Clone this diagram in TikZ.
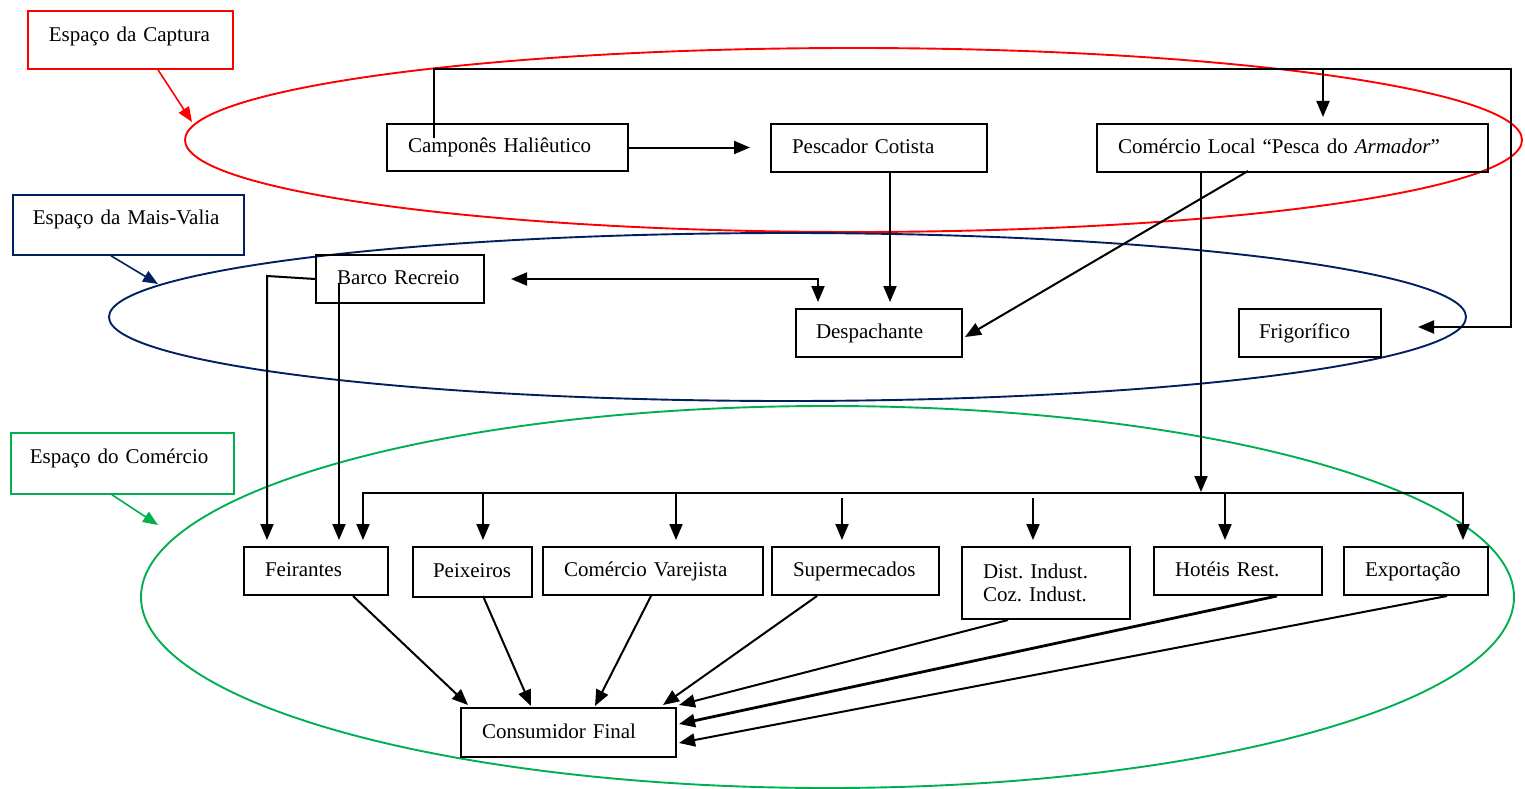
\documentclass[tikz,border=0pt]{standalone}
\usepackage{fontspec}
\setmainfont{Liberation Serif}
\usetikzlibrary{arrows.meta,calc}
\definecolor{capred}{RGB}{255,0,0}
\definecolor{mvblue}{RGB}{0,32,96}
\definecolor{comgreen}{RGB}{0,176,80}
\newcommand\dfont{\fontsize{21}{23.5}\selectfont\frenchspacing}
\begin{document}
\begin{tikzpicture}[x=1pt,y=-1pt,
  tri/.tip={Triangle[length=16pt,width=13pt]},
  box/.style={draw, line width=2pt, anchor=north west, inner xsep=21pt, inner ysep=0pt,
    align=left, font=\dfont, text height=14.5pt, text depth=3.5pt},
  boxtwo/.style={draw, line width=2pt, anchor=north west, inner xsep=21pt, inner ysep=0pt,
    align=left, font=\dfont},
  tag/.style={draw, line width=1.8pt, anchor=north west, inner ysep=0pt, align=left, font=\dfont},
  ln/.style={line width=2pt},
  arr/.style={line width=2pt, -tri},
  ptr/.style={line width=1.6pt, -{Triangle[length=15pt,width=12pt]}}
]
\useasboundingbox (0,0) rectangle (1525,789);

% ellipses (spaces)
\draw[capred, line width=1.9pt] (853.5,140) ellipse [x radius=668.5pt, y radius=92pt];
\draw[mvblue, line width=1.9pt] (787.5,317) ellipse [x radius=678.5pt, y radius=84pt];
\draw[comgreen, line width=1.9pt] (827.5,597) ellipse [x radius=686.5pt, y radius=191pt];

% space labels
\node[tag, draw=capred, inner xsep=21pt, text width=163pt, text height=30.5pt, text depth=27.5pt] (capbox) at (27,10) {Espaço da Captura};
\node[tag, draw=mvblue, inner xsep=20pt, text width=191pt, text height=30pt, text depth=30pt] (mvbox) at (12,194) {Espaço da Mais-Valia};
\node[tag, draw=comgreen, inner xsep=19pt, text width=185pt, text height=31pt, text depth=30pt] (combox) at (10,432) {Espaço do Comércio};

\coordinate (captip) at (192,122);
\coordinate (mvtip) at (158,284);
\coordinate (comtip) at (158,525);
\draw[ptr, capred] ($(capbox.south west)+(131,0)$) -- (captip);
\draw[ptr, mvblue] ($(mvbox.south west)+(99,0)$) -- (mvtip);
\draw[ptr, comgreen] ($(combox.south west)+(102,0)$) -- (comtip);

% main boxes
\node[box, text width=199pt, minimum height=47pt] (camp) at (386,123) {Camponês Haliêutico};
\node[box, text width=174pt, minimum height=48pt] (pesc) at (770,123) {Pescador Cotista};
\node[box, text width=349pt, minimum height=48pt] (com) at (1096,123) {Comércio Local “Pesca do \textit{Armador}”};
\node[box, text width=126pt, minimum height=48pt] (barco) at (315,254) {Barco Recreio};
\node[box, minimum height=48pt, inner xsep=20pt, text width=126pt] (desp) at (795,308) {Despachante};
\node[box, text width=102pt, minimum height=48pt, inner xsep=20pt] (frig) at (1238,308) {Frigorífico};

\node[box, text width=102pt, minimum height=48pt] (feir) at (243,546) {Feirantes};
\node[box, text width=79pt, minimum height=50pt, inner xsep=20pt] (peix) at (412,546) {Peixeiros};
\node[box, text width=178pt, minimum height=48pt] (var) at (542,546) {Comércio Varejista};
\node[box, text width=125pt, minimum height=48pt] (sup) at (771,546) {Supermecados};
\node[boxtwo, text width=126pt, minimum height=72pt] (dist) at (961,546) {Dist. Indust.\\Coz. Indust.};
\node[box, text width=126pt, minimum height=48pt] (hot) at (1153,546) {Hotéis Rest.};
\node[box, text width=102pt, minimum height=48pt] (exp) at (1343,546) {Exportação};
\node[box, text width=173pt, minimum height=49pt] (cons) at (460,707) {Consumidor Final};

% connector coordinates
\coordinate (topL) at (434,69);
\coordinate (topR) at (1511,69);
\coordinate (rgtB) at (1511,327);
\coordinate (frigin) at (1418,327);
\coordinate (comsplit) at (1323,69);
\coordinate (comin) at ($(com.north west)+(227,-6)$);

% Camponês -> Comércio Local / Frigorífico
\draw[arr] ($(camp.north west)+(48,15)$) -- (topL) -- (topR) -- (rgtB) -- (frigin);
\draw[arr] (comsplit) -- (comin);

% Camponês -> Pescador
\draw[arr] (camp.east) -- ($(camp.east)+(121,0)$);

% Pescador -> Despachante
\draw[arr] ($(pesc.south west)+(120,0)$) -- ($(desp.north west)+(95,-6)$);

% Barco <-> Despachante
\coordinate (barcoout) at ($(barco.east)+(26,0)$);
\coordinate (despin) at ($(desp.north west)+(23,-6)$);
\draw[ln, tri-tri] (barcoout) -| (despin);

% Comércio Local -> Despachante
\draw[arr] ($(com.south west)+(152,-2)$) -- ($(desp.north east)+(2,29)$);

% Comércio Local -> bus
\coordinate (busC) at (1201,493);
\draw[arr] ($(com.south west)+(105,0)$) -- ($(busC)+(0,-1)$);
\coordinate (busL) at (363,493);
\coordinate (busR) at (1463,493);
\draw[ln, tri-tri] ($(feir.north west)+(120,-6)$) -- (busL) -- (busR) -- ($(exp.north west)+(120,-6)$);
\draw[arr] (483,493) -- ($(peix.north west)+(71,-6)$);
\draw[arr] (676,493) -- ($(var.north west)+(134,-6)$);
\draw[arr] (1225,493) -- ($(hot.north west)+(72,-6)$);
\draw[arr] (842,498) -- ($(sup.north west)+(71,-6)$);
\draw[arr] (1033,498) -- ($(dist.north west)+(72,-6)$);

% Barco -> Feirantes
\coordinate (bk) at (267,276);
\draw[arr] (barco.west) -- (bk) -- ($(feir.north west)+(24,-6)$);
\draw[arr] ($(barco.north west)+(24,29)$) -- ($(feir.north west)+(96,-6)$);

% to Consumidor Final
\draw[arr] ($(feir.south west)+(110,0)$) -- ($(cons.north west)+(8,-2)$);
\draw[arr] ($(peix.south west)+(71,-2)$) -- ($(cons.north west)+(71,-1)$);
\draw[arr] ($(var.south west)+(109,0)$) -- ($(cons.north west)+(135,-1)$);
\draw[arr] ($(sup.south west)+(46,0)$) -- ($(cons.north west)+(203,-2)$);
\draw[arr] ($(dist.south west)+(47,0)$) -- ($(cons.north east)+(2,-2)$);
\draw[arr, line width=2.8pt] ($(hot.south west)+(124,0)$) -- ($(cons.north east)+(2,17)$);
\draw[arr] ($(exp.south west)+(104,0)$) -- ($(cons.north east)+(2,36)$);
\end{tikzpicture}
\end{document}
